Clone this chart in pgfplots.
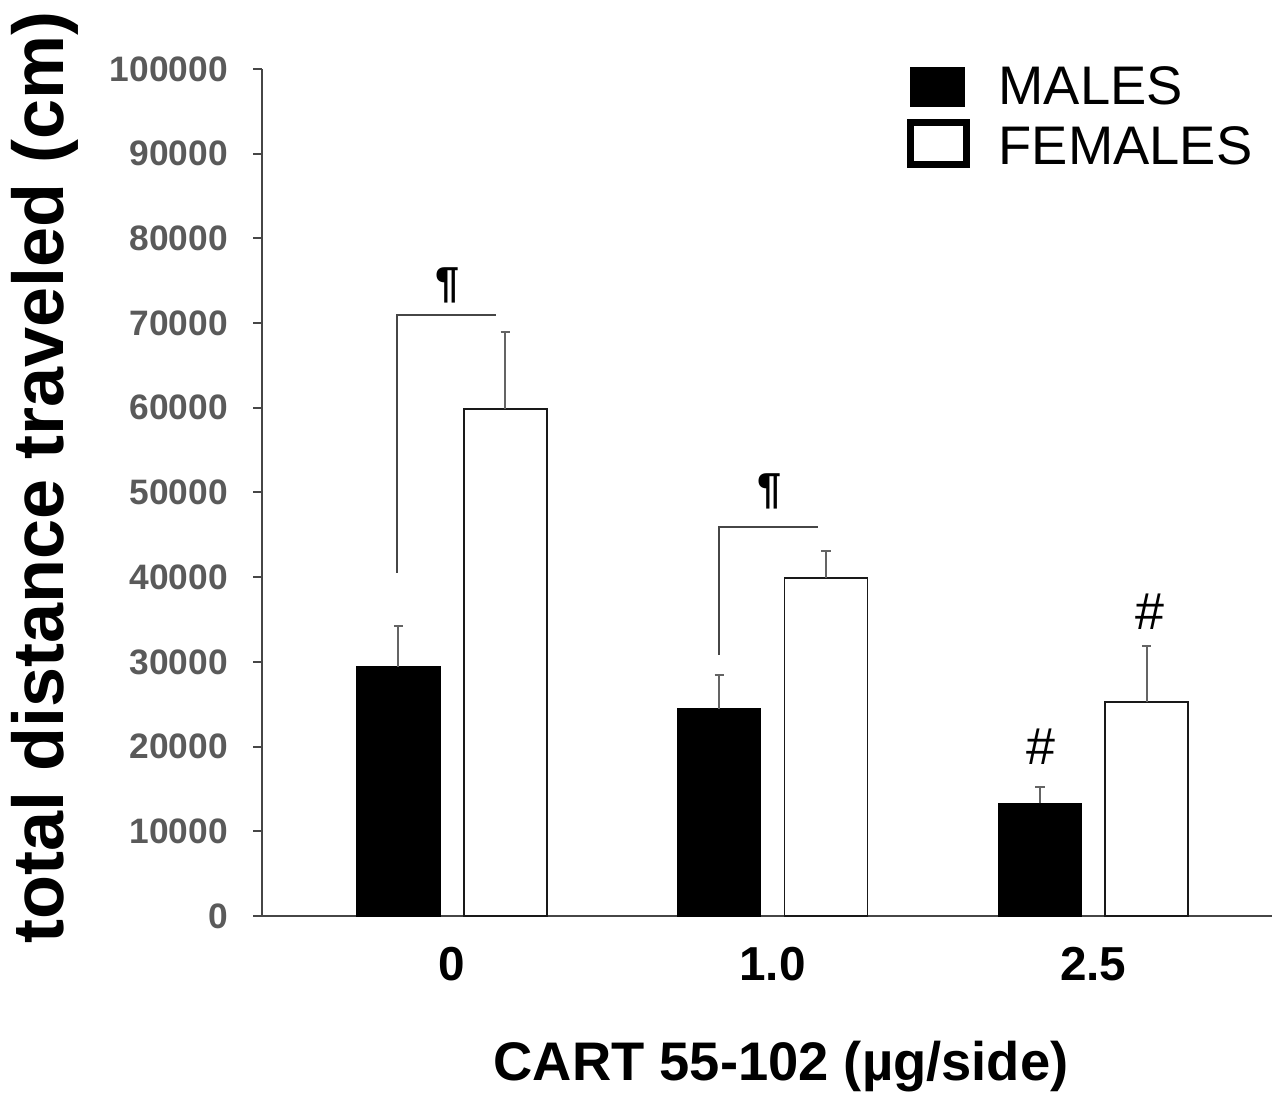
\documentclass[border=0pt]{standalone}
\usepackage{fontspec}
\setmainfont{Liberation Sans}
\usepackage{pgfplots}
\pgfplotsset{compat=1.18}
\definecolor{tickgray}{RGB}{90,90,90}
\definecolor{axgray}{RGB}{70,70,70}
\definecolor{errgray}{RGB}{100,100,100}
\begin{document}
\begin{tikzpicture}
\begin{axis}[
 scale only axis, width=303pt, height=254.1pt,
 xmin=-0.592, xmax=2.557, ymin=0, ymax=100000,
 clip=false,
 axis x line=bottom, axis y line=left,
 axis line style={-, draw=axgray, line width=0.6pt},
 tick align=outside, major tick length=2.7pt,
 xtick={0,1,2}, xticklabels={0,1.0,2.5},
 x tick style={draw=none},
 scaled y ticks=false,
 ytick={0,10000,20000,30000,40000,50000,60000,70000,80000,90000,100000},
 yticklabels={0,10000,20000,30000,40000,50000,60000,70000,80000,90000,100000},
 y tick style={draw=axgray, line width=0.6pt},
 yticklabel style={font=\fontsize{10.6}{12}\selectfont\bfseries, text=tickgray, xshift=-4pt},
 xticklabel style={font=\fontsize{14.3}{16}\selectfont\bfseries, yshift=-3pt},
 ylabel={total distance traveled (cm)},
 every axis y label/.style={at={(axis description cs:-0.2149,0.518)}, rotate=90, anchor=center},
 ylabel style={font=\fontsize{21.6}{24}\selectfont\bfseries},
 xlabel={CART 55-102 (µg/side)},
 every axis x label/.style={at={(axis description cs:0.514,-0.178)}, anchor=center},
 xlabel style={font=\fontsize{16.3}{19}\selectfont\bfseries},
]
\coordinate (O) at (rel axis cs:0,0);
\coordinate (T) at (rel axis cs:1,1);

% MALES
\addplot[ybar, bar width=0.259, bar shift=0pt, fill=black, draw=black, line width=0.4pt,
  error bars/.cd, y dir=plus, y explicit,
  error bar style={errgray, line width=0.6pt},
  error mark options={rotate=90, mark size=1.4pt, errgray, line width=0.6pt}]
  coordinates {(-0.1665,29430) +- (0,4810) (0.8335,24470) +- (0,3950) (1.8335,13300) +- (0,1890)};

% FEMALES
\addplot[ybar, bar width=0.259, bar shift=0pt, fill=white, draw=black!90, line width=0.5pt,
  error bars/.cd, y dir=plus, y explicit,
  error bar style={errgray, line width=0.6pt},
  error mark options={rotate=90, mark size=1.4pt, errgray, line width=0.6pt}]
  coordinates {(0.1665,59830) +- (0,9160) (1.1665,39910) +- (0,3220) (2.1665,25270) +- (0,6610)};

% significance annotations
\draw[axgray, line width=0.5pt] (axis cs:-0.172,40530) -- (axis cs:-0.172,70920) -- (axis cs:0.137,70920);
\node[font=\fontsize{13}{15}\selectfont\bfseries] at (axis cs:-0.012,74500) {¶};
\draw[axgray, line width=0.5pt] (axis cs:0.832,30815) -- (axis cs:0.832,45960) -- (axis cs:1.143,45960);
\node[font=\fontsize{13}{15}\selectfont\bfseries] at (axis cs:0.991,50180) {¶};
\node[font=\fontsize{15.6}{18}\selectfont, anchor=base] at (axis cs:1.838,17830) {\#};
\node[font=\fontsize{15.6}{18}\selectfont, anchor=base] at (axis cs:2.176,33770) {\#};

% legend
\fill[black] (rel axis cs:0.6420,1.0027) rectangle (rel axis cs:0.6963,0.9548);
\draw[black, line width=2.1pt] (rel axis cs:0.6418,0.9365) rectangle (rel axis cs:0.6975,0.8869);
\node[anchor=base west, inner sep=0pt, font=\fontsize{16.3}{19}\selectfont] at (rel axis cs:0.7287,0.9575) {MALES};
\node[anchor=base west, inner sep=0pt, font=\fontsize{16.3}{19}\selectfont] at (rel axis cs:0.7287,0.8878) {FEMALES};
\end{axis}
\pgfresetboundingbox
\path[use as bounding box] ([shift={(-78.6pt,-53.4pt)}]O) rectangle ([shift={(0pt,20.7pt)}]T);
\end{tikzpicture}
\end{document}
